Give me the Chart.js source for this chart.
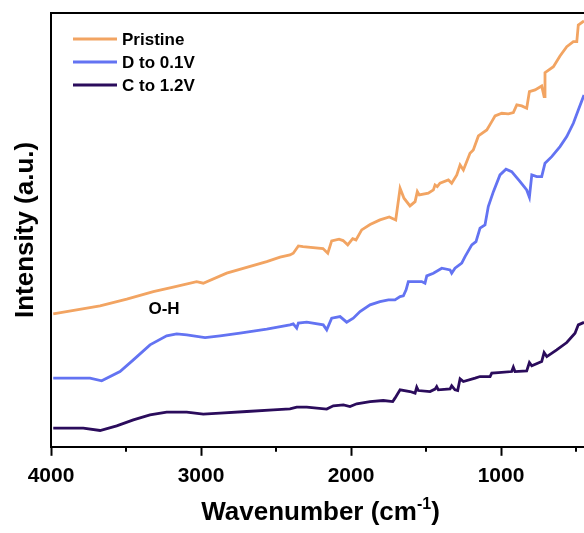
<!DOCTYPE html>
<html>
<head>
<meta charset="utf-8">
<script src="https://cdn.jsdelivr.net/npm/chart.js@4.4.1/dist/chart.umd.min.js"></script>
<style>
    html, body { margin: 0; padding: 0; background: #fff; }
    canvas { display: block; }
</style>
</head>
<body>
<canvas id="chart" width="584" height="533"></canvas>
<script>
// wavenumber (cm-1) and intensity (a.u.)
const pristineWn = [3985, 3673, 3495, 3318, 3185, 3029, 2985, 2829, 2562, 2473, 2407, 2385, 2351, 2320, 2187, 2155, 2129, 2080, 2053, 2022, 1989, 1967, 1929, 1873, 1807, 1745, 1702, 1673, 1647, 1607, 1573, 1558, 1545, 1485, 1451, 1440, 1425, 1407, 1351, 1329, 1295, 1273, 1251, 1207, 1185, 1151, 1095, 1062, 1040, 995, 951, 918, 895, 862, 829, 811, 773, 729, 713, 707, 651, 607, 562, 518, 495, 485, 447];
const pristineInt = [133, 141, 147.7, 155.3, 159.7, 165.3, 163.7, 173.7, 185.3, 189.7, 192, 193.7, 201, 200.3, 198.3, 193.7, 206, 207.7, 206.3, 202, 208.3, 207, 217, 222.3, 227, 230, 227, 258.7, 248.7, 241, 245.3, 255.3, 252, 253.7, 257, 262, 260.3, 263.7, 267, 263.7, 272, 282, 277, 293.7, 297, 311, 317, 325.3, 331, 333.7, 333, 334.3, 342, 341, 338.7, 355.3, 357, 361, 350.3, 374.3, 380.3, 391, 400.3, 405.3, 405.3, 422, 426];

const dischargeWn = [3985, 3740, 3662, 3540, 3451, 3340, 3229, 3162, 3095, 2973, 2873, 2740, 2562, 2407, 2385, 2362, 2351, 2295, 2185, 2162, 2129, 2073, 2029, 1985, 1940, 1873, 1807, 1751, 1707, 1673, 1651, 1633, 1618, 1595, 1529, 1507, 1495, 1451, 1395, 1340, 1329, 1307, 1262, 1240, 1195, 1167, 1140, 1107, 1085, 1051, 1007, 967, 929, 873, 829, 811, 795, 762, 729, 707, 662, 607, 562, 518, 485, 447];
const dischargeInt = [68.7, 68.7, 66, 75.3, 87, 102, 111, 113, 112, 109.3, 111, 113.7, 117.7, 122, 123, 118.7, 123.7, 124.7, 122, 117, 128.7, 130.3, 124.7, 128.7, 135.3, 142, 145.3, 147, 147, 150.3, 151, 157, 165.3, 165.3, 165.3, 163.7, 171, 173.7, 178.7, 177, 173.7, 178.7, 183.7, 190.3, 202, 205.3, 218.7, 222, 240.3, 255.3, 272, 277.7, 275.3, 265.3, 257, 249.7, 272, 270.3, 270.3, 283.7, 290.3, 300.3, 310.3, 323.7, 337, 352];

const chargeWn = [3985, 3785, 3673, 3562, 3451, 3340, 3229, 3095, 2985, 2873, 2695, 2518, 2407, 2362, 2295, 2162, 2118, 2051, 2007, 1962, 1873, 1785, 1722, 1707, 1673, 1607, 1573, 1562, 1551, 1473, 1440, 1429, 1418, 1340, 1329, 1307, 1289, 1273, 1251, 1173, 1140, 1073, 1062, 1018, 929, 918, 907, 829, 811, 795, 729, 713, 695, 629, 562, 507, 485, 447];
const chargeInt = [18.7, 18.7, 16.3, 21, 27, 32, 34.7, 34.7, 32.7, 33.7, 35.3, 37, 38, 39.7, 39.7, 37.7, 41, 42, 40.3, 43, 45.3, 46.3, 45.3, 48.7, 57, 55.3, 53.7, 59.7, 56.3, 55.3, 57.7, 60.3, 57, 58, 61, 57, 56.3, 68, 65.3, 68.7, 70.3, 70.3, 73.7, 74.3, 75.3, 79.7, 75.3, 76, 84.3, 81, 85.3, 94.3, 90.3, 97, 104.3, 113.7, 122, 124.5];

const seriesNames = ['Pristine', 'D to 0.1V', 'C to 1.2V'];
const seriesColors = ['#F2A462', '#6373F2', '#2B0C5C'];
const xTickLabels = [1000, 2000, 3000, 4000];
const xMinorTicks = [500, 1500, 2500, 3500];

const FONT = "'Liberation Sans', Arial, sans-serif";

const toPoints = (wn, int) => wn.map((x, i) => ({ x, y: int[i] }));

const series = [
    toPoints(pristineWn, pristineInt),
    toPoints(dischargeWn, dischargeInt),
    toPoints(chargeWn, chargeInt),
];

// frame top line, minor ticks, axis titles, legend and the O-H note
const decorations = {
    id: 'decorations',
    afterDraw(chart) {
        const { ctx, chartArea } = chart;
        const xScale = chart.scales.x;
        ctx.save();

        ctx.strokeStyle = '#000';
        ctx.lineWidth = 2;
        ctx.beginPath();
        ctx.moveTo(chartArea.left - 1, chartArea.top);
        ctx.lineTo(chartArea.right, chartArea.top);
        ctx.stroke();

        xMinorTicks.forEach((v) => {
            const px = Math.round(xScale.getPixelForValue(v));
            ctx.beginPath();
            ctx.moveTo(px, chartArea.bottom);
            ctx.lineTo(px, chartArea.bottom + 5);
            ctx.stroke();
        });

        ctx.fillStyle = '#000';

        // x title with superscript
        const big = `bold 26px ${FONT}`, small = `bold 16px ${FONT}`;
        ctx.font = big;
        const w1 = ctx.measureText('Wavenumber (cm').width;
        const w3 = ctx.measureText(')').width;
        ctx.font = small;
        const w2 = ctx.measureText('-1').width;
        const x = (chartArea.left + chartArea.right) / 2 + 3 - (w1 + w2 + w3) / 2;
        const base = 520;
        ctx.textAlign = 'left';
        ctx.textBaseline = 'alphabetic';
        ctx.font = big;
        ctx.fillText('Wavenumber (cm', x, base);
        ctx.font = small;
        ctx.fillText('-1', x + w1, base - 11);
        ctx.font = big;
        ctx.fillText(')', x + w1 + w2, base);

        // y title
        ctx.save();
        ctx.translate(33, (chartArea.top + chartArea.bottom) / 2);
        ctx.rotate(-Math.PI / 2);
        ctx.textAlign = 'center';
        ctx.font = big;
        ctx.fillText('Intensity (a.u.)', 0, 0);
        ctx.restore();

        // legend
        ctx.font = `bold 17px ${FONT}`;
        ctx.textBaseline = 'middle';
        seriesNames.forEach((name, i) => {
            const y = 39 + i * 23;
            ctx.strokeStyle = seriesColors[i];
            ctx.lineWidth = 3;
            ctx.beginPath();
            ctx.moveTo(73, y);
            ctx.lineTo(117, y);
            ctx.stroke();
            ctx.fillStyle = '#000';
            ctx.fillText(name, 122, y + 1);
        });

        ctx.textAlign = 'center';
        ctx.fillText('O-H', 164, 309);

        ctx.restore();
    },
};

new Chart(document.getElementById('chart'), {
    type: 'line',
    data: {
        datasets: series.map((data, i) => ({
            label: seriesNames[i],
            data,
            borderColor: seriesColors[i],
            borderWidth: 2.8,
            pointRadius: 0,
            tension: 0,
            fill: false,
        })),
    },
    options: {
        responsive: false,
        animation: false,
        layout: { padding: { left: 51, top: 13, right: 0, bottom: 36 } },
        plugins: {
            legend: { display: false },
            tooltip: { enabled: false },
        },
        scales: {
            x: {
                type: 'linear',
                reverse: true,
                min: 447,
                max: 4000,
                afterBuildTicks: (scale) => {
                    scale.ticks = xTickLabels.map((value) => ({ value }));
                },
                afterFit: (scale) => {
                    scale.paddingLeft = 0;
                    scale.paddingRight = 0;
                },
                border: { color: '#000', width: 2 },
                grid: {
                    drawOnChartArea: false,
                    tickLength: 9,
                    tickWidth: 2,
                    tickColor: '#000',
                },
                ticks: {
                    autoSkip: false,
                    maxRotation: 0,
                    padding: 8,
                    color: '#000',
                    font: { family: FONT, size: 21, weight: 'bold' },
                    callback: (v) => String(v),
                },
            },
            y: {
                min: 0,
                max: 434,
                border: { color: '#000', width: 2 },
                grid: { display: false, drawTicks: false },
                ticks: { display: false },
            },
        },
    },
    plugins: [decorations],
});
</script>
</body>
</html>
